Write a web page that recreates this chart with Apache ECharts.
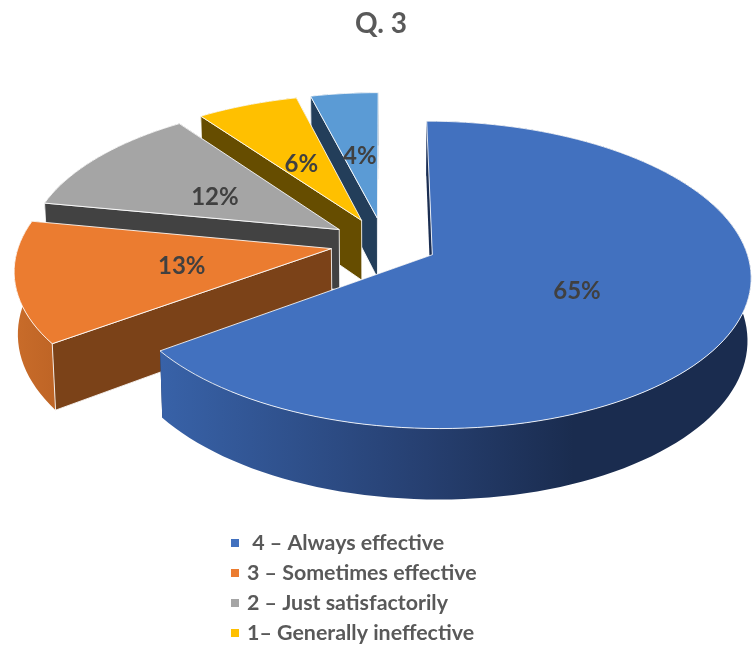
<!DOCTYPE html>
<html>
<head>
<meta charset="utf-8">
<style>html,body{margin:0;padding:0;background:#fff}#c{width:752px;height:646px}</style>
<script src="https://cdn.jsdelivr.net/npm/echarts@6/dist/echarts.min.js"></script>
</head>
<body>
<div id="c"></div>
<script>
var categories = [' 4 – Always effective', '3 – Sometimes effective', '2 – Just satisfactorily', '1– Generally ineffective', 'Other'];
var values = [65, 13, 12, 6, 4];
var legendNames = categories.slice(0, 4);
var topColors = ['#4271BF', '#EB7C30', '#A5A5A5', '#FFC000', '#5B9BD5'];
var faceColors = ['#1B2E52', '#7B4218', '#424242', '#664D00', '#233E5A'];
var wallStops = [
  [[0, '#3862A8'], [0.45, '#263F70'], [0.7, '#1A2C4F'], [1, '#1A2C4F']],
  [[0, '#C96C2A'], [1, '#BF6526']],
  [[0, '#636363'], [1, '#636363']],
  [[0, '#997300'], [1, '#997300']],
  [[0, '#2E5F8C'], [1, '#2E5F8C']]
];
var labelRadius = [0.495, 0.48, 0.5, 0.5, 0.5];
var labelDy = [2, 2, 5, 5, 4];

// Projection of the tilted, exploded pie
var CX = 384, CY = 243, A = 312, B = 148, PERSP = 0.13, EXPLODE = 0.172, THICK = 61, BOTTOM_SCALE = 0.99;
var total = values.reduce(function (s, v) { return s + v; }, 0);

function project(X, V, depth) {
  var k = 1 / (1 - PERSP * V);
  var sx = depth ? BOTTOM_SCALE : 1;
  return [CX + A * X * k * sx, CY + B * V * k + (depth ? THICK * k : 0)];
}
function slicePoint(mid, ang, r, depth) {
  var X = EXPLODE * Math.sin(mid) + r * Math.sin(ang);
  var V = -EXPLODE * Math.cos(mid) - r * Math.cos(ang);
  return project(X, V, depth);
}

function makeRender(i) {
  return function (params, api) {
    var before = 0;
    for (var j = 0; j < i; j++) before += values[j];
    var a0 = before / total * 2 * Math.PI;
    var a1 = (before + api.value(0)) / total * 2 * Math.PI;
    var mid = (a0 + a1) / 2;
    var n = Math.max(8, Math.round((a1 - a0) / (Math.PI / 90)));
    var topArc = [], botArc = [];
    for (var s = 0; s <= n; s++) {
      var a = a0 + (a1 - a0) * s / n;
      topArc.push(slicePoint(mid, a, 1, false));
      botArc.push(slicePoint(mid, a, 1, true));
    }
    var apexT = slicePoint(mid, 0, 0, false), apexB = slicePoint(mid, 0, 0, true);
    var xs = topArc.map(function (p) { return p[0]; });
    var minX = Math.min.apply(null, xs), maxX = Math.max.apply(null, xs);
    function poly(points, fill, stroke) {
      var style = { fill: fill };
      if (stroke) { style.stroke = 'rgba(255,255,255,0.85)'; style.lineWidth = 1; style.lineJoin = 'round'; }
      return { type: 'polygon', shape: { points: points }, style: style, silent: true };
    }
    var wallGrad = {
      type: 'linear', x: minX, y: 0, x2: maxX, y2: 0, global: true,
      colorStops: wallStops[i].map(function (c) { return { offset: c[0], color: c[1] }; })
    };
    var label = slicePoint(mid, mid, labelRadius[i], false);
    return {
      type: 'group',
      children: [
        poly([apexT, topArc[n], botArc[n], apexB], faceColors[i], false),
        poly(topArc.concat(botArc.slice().reverse()), wallGrad, false),
        poly([apexT, topArc[0], botArc[0], apexB], faceColors[i], i !== 0),
        poly([apexT].concat(topArc), topColors[i], true),
        {
          type: 'text', silent: true,
          style: {
            x: label[0], y: label[1] + labelDy[i], text: api.value(0) + '%',
            fill: '#404040', font: 'bold 24px Lato, "Noto Sans", sans-serif',
            align: 'center', verticalAlign: 'middle'
          }
        }
      ]
    };
  };
}

var series = values.map(function (v, i) {
  return {
    type: 'custom', name: categories[i], coordinateSystem: 'none',
    itemStyle: { color: topColors[i] }, clip: false,
    data: [[v]], renderItem: makeRender(i)
  };
});
// draw from the back to the front
series = [series[4], series[3], series[2], series[1], series[0]];

var chart = echarts.init(document.getElementById('c'), null, { renderer: 'canvas' });
chart.setOption({
  animation: false,
  backgroundColor: '#fff',
  title: {
    text: 'Q. 3', left: 376, textAlign: 'center', top: 5,
    textStyle: { color: '#595959', fontFamily: 'Lato, "Noto Sans", sans-serif', fontWeight: 'bold', fontSize: 28 }
  },
  legend: {
    data: legendNames, orient: 'vertical', left: 231, top: 532, padding: 0, height: 114,
    icon: 'rect', itemWidth: 8, itemHeight: 8, itemGap: 8, selectedMode: false,
    textStyle: { color: '#595959', fontFamily: 'Lato, "Noto Sans", sans-serif', fontWeight: 'bold', fontSize: 21.4, lineHeight: 22, padding: [0, 0, 0, 3] }
  },
  series: series
});
</script>
</body>
</html>
